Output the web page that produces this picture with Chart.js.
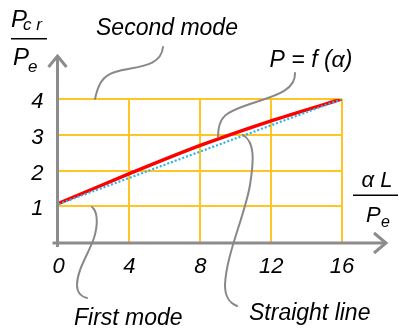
<!DOCTYPE html>
<html>
<head>
<meta charset="utf-8">
<script src="https://cdn.jsdelivr.net/npm/chart.js@4/dist/chart.umd.min.js"></script>
<style>
  html, body { margin: 0; padding: 0; background: #ffffff; }
  #wrap { width: 399px; height: 328px; position: relative; }
</style>
</head>
<body>
<div id="wrap"><canvas id="c" width="399" height="328"></canvas></div>
<script>
// alpha*L/Pe positions and the two load ratio curves
const alphaValues = [0, 4, 8, 12, 16];
const curveValues = [1.08, 1.91, 2.70, 3.39, 4.0];      // P = f(alpha)
const straightValues = [1.06, 1.795, 2.53, 3.265, 4.0]; // straight line
const xTicks = [0, 4, 8, 12, 16];
const yTicks = [1, 2, 3, 4];

const FONT = '"Liberation Sans", Arial, sans-serif';
const GOLD = '#FFC425';
const GREY = '#8C8C8C';

const toPoints = (ys) => alphaValues.map((x, i) => ({ x: x, y: ys[i] }));

// Axes with arrowheads, annotations and leader curves
const decorations = {
  id: 'decorations',
  afterDraw(chart) {
    const { ctx, scales } = chart;
    const x0 = scales.x.getPixelForValue(0);
    const y0 = scales.y.getPixelForValue(0);
    ctx.save();
    ctx.lineCap = 'butt';
    ctx.lineJoin = 'miter';
    ctx.strokeStyle = GREY;
    ctx.lineWidth = 3;
    // vertical axis
    ctx.beginPath();
    ctx.moveTo(x0 - 1, y0 + 5);
    ctx.lineTo(x0 - 1, 56);
    ctx.stroke();
    ctx.beginPath();
    ctx.moveTo(x0 - 10, 67);
    ctx.lineTo(x0 - 1, 56);
    ctx.lineTo(x0 + 8, 67);
    ctx.stroke();
    // horizontal axis
    ctx.beginPath();
    ctx.moveTo(x0 - 6, y0 + 1);
    ctx.lineTo(386, y0 + 1);
    ctx.stroke();
    ctx.beginPath();
    ctx.moveTo(374, y0 - 9);
    ctx.lineTo(386, y0 + 1);
    ctx.lineTo(374, y0 + 11);
    ctx.stroke();

    // leader curves
    ctx.strokeStyle = '#888888';
    ctx.lineWidth = 2;
    ctx.lineCap = 'round';
    const curve = (pts) => {
      ctx.beginPath();
      ctx.moveTo(pts[0], pts[1]);
      for (let i = 2; i < pts.length; i += 6) {
        ctx.bezierCurveTo(pts[i], pts[i + 1], pts[i + 2], pts[i + 3], pts[i + 4], pts[i + 5]);
      }
      ctx.stroke();
    };
    curve([95, 99, 98, 85, 102, 76, 115, 72, 135, 66, 161, 68, 163, 47]);
    curve([295, 73, 296, 92, 270, 97, 250, 104, 226, 112, 218, 116, 218, 137]);
    curve([243, 135, 255, 142, 254, 160, 250, 185, 245, 215, 226, 255, 225, 285, 225, 298, 230, 303, 237, 306]);
    curve([92, 207, 98, 212, 98, 225, 94, 238, 88, 255, 77, 270, 77, 285, 77, 293, 82, 297, 87, 298]);

    // annotation text
    ctx.fillStyle = '#000000';
    ctx.textBaseline = 'alphabetic';
    ctx.textAlign = 'left';
    ctx.font = 'italic 23px ' + FONT;
    ctx.fillText('Second mode', 96, 35);
    ctx.fillText('First mode', 74, 325);
    ctx.fillText('Straight line', 249, 320);
    ctx.textAlign = 'center';
    ctx.fillText('P = f (\u03b1)', 311, 67);

    // vertical axis title: Pcr / Pe
    ctx.textAlign = 'left';
    ctx.font = 'italic 24px ' + FONT;
    ctx.fillText('P', 11, 27);
    ctx.fillText('P', 13, 65);
    ctx.font = 'italic 17px ' + FONT;
    ctx.fillText('c r', 23, 30);
    ctx.fillText('e', 28, 72);
    ctx.fillRect(11, 38, 36, 1.5);

    // horizontal axis title: alpha L / Pe
    ctx.font = 'italic 22px ' + FONT;
    ctx.textAlign = 'center';
    ctx.fillText('\u03b1 L', 377, 187);
    ctx.textAlign = 'left';
    ctx.fillText('P', 366, 222);
    ctx.font = 'italic 16px ' + FONT;
    ctx.fillText('e', 381, 227);
    ctx.fillRect(353, 194.5, 45, 1.5);
    ctx.restore();
  }
};

new Chart(document.getElementById('c'), {
  type: 'scatter',
  data: {
    datasets: [
      {
        label: 'Straight line',
        data: toPoints(straightValues),
        showLine: true,
        borderColor: '#2BB3EA',
        borderWidth: 2.2,
        borderDash: [2, 2],
        pointRadius: 0,
        fill: false
      },
      {
        label: 'P = f (\u03b1)',
        data: toPoints(curveValues),
        showLine: true,
        borderColor: '#FF0000',
        borderWidth: 3.5,
        tension: 0.2,
        pointRadius: 0,
        fill: false
      }
    ]
  },
  options: {
    responsive: false,
    animation: false,
    events: [],
    layout: { padding: { left: 10, right: 57, top: 99, bottom: 0 } },
    plugins: { legend: { display: false }, tooltip: { enabled: false } },
    scales: {
      x: {
        type: 'linear',
        min: 0,
        max: 16,
        afterBuildTicks: (s) => { s.ticks = xTicks.map(v => ({ value: v })); },
        afterFit: (s) => { s.height = 86; },
        border: { display: false },
        grid: {
          drawTicks: false,
          lineWidth: 2,
          color: (c) => (c.tick && c.tick.value === 0) ? 'rgba(0,0,0,0)' : GOLD
        },
        ticks: {
          color: '#000000',
          padding: 12,
          maxRotation: 0,
          font: { family: FONT, size: 22, style: 'italic' }
        }
      },
      y: {
        type: 'linear',
        min: 0,
        max: 4,
        afterBuildTicks: (s) => { s.ticks = yTicks.map(v => ({ value: v })); },
        afterFit: (s) => { s.width = 48.5; },
        border: { display: false },
        grid: {
          drawTicks: false,
          lineWidth: 2,
          color: GOLD
        },
        ticks: {
          color: '#000000',
          padding: 15,
          labelOffset: 3,
          font: { family: FONT, size: 22, style: 'italic' }
        }
      }
    }
  },
  plugins: [decorations]
});
</script>
</body>
</html>
